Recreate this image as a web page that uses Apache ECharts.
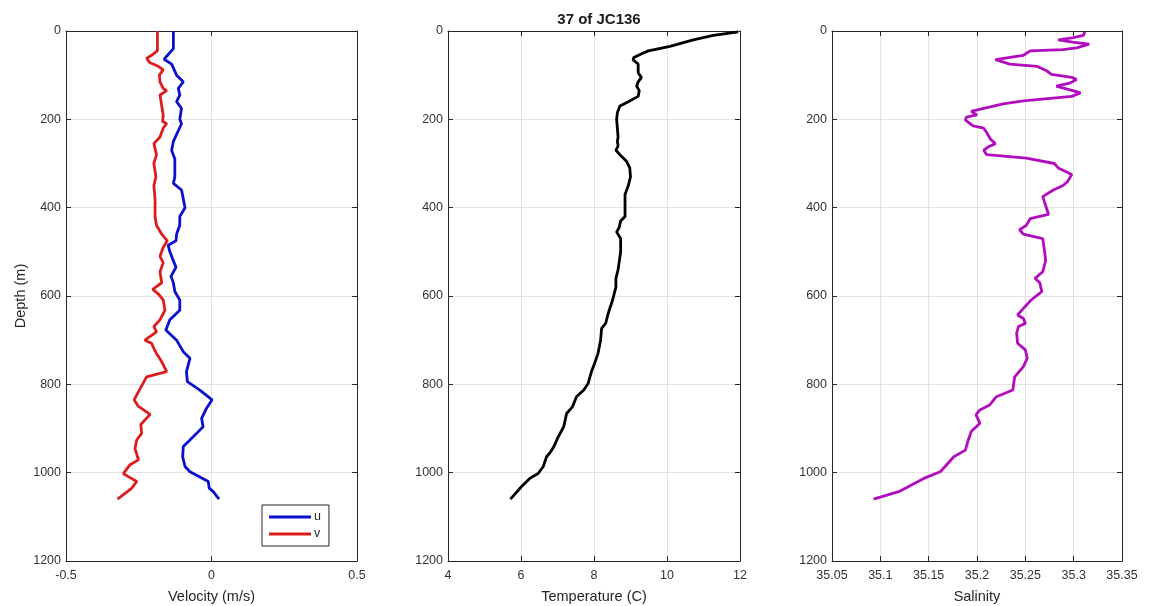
<!DOCTYPE html>
<html>
<head>
<meta charset="utf-8">
<script src="https://cdn.jsdelivr.net/npm/echarts@6/dist/echarts.min.js"></script>
<style>
  html, body { margin: 0; padding: 0; background: #fff; }
  #main { width: 1150px; height: 606px; }
</style>
</head>
<body>
<div id="main"></div>
<script>
// velocity profile (m/s) vs depth (m)
var uDepth = [0, 40, 64, 75, 100, 115, 130, 145, 160, 175, 200, 210, 250, 270, 290, 330, 345, 360, 380, 400,
  420, 440, 460, 475, 485, 500, 520, 535, 555, 570, 590, 609, 632, 643, 654, 677, 700, 726, 741, 756,
  771, 794, 813, 835, 854, 877, 896, 911, 930, 941, 964, 986, 998, 1020, 1035, 1043, 1060];
var uVel = [-0.131, -0.131, -0.163, -0.137, -0.12, -0.097, -0.114, -0.109, -0.12, -0.103, -0.109, -0.103, -0.131, -0.137, -0.126, -0.126, -0.131, -0.103, -0.097, -0.091,
  -0.109, -0.109, -0.12, -0.122, -0.149, -0.143, -0.131, -0.122, -0.139, -0.131, -0.126, -0.109, -0.109, -0.126, -0.143, -0.157, -0.12, -0.097, -0.074, -0.08,
  -0.086, -0.083, -0.04, 0.002, -0.017, -0.034, -0.029, -0.051, -0.08, -0.097, -0.099, -0.091, -0.074, -0.011, -0.008, 0.006, 0.026];

var vDepth = [0, 45, 55, 62, 72, 80, 88, 100, 115, 130, 135, 145, 170, 190, 205, 210, 220, 240, 255, 280,
  300, 330, 350, 380, 420, 440, 460, 475, 490, 510, 525, 545, 570, 585, 595, 609, 632, 654, 669, 681,
  700, 707, 719, 730, 749, 771, 783, 794, 813, 835, 850, 868, 891, 911, 926, 945, 971, 982, 1002, 1009,
  1020, 1035, 1047, 1060];
var vVel = [-0.186, -0.186, -0.206, -0.223, -0.211, -0.183, -0.166, -0.179, -0.177, -0.166, -0.154, -0.177, -0.171, -0.166, -0.168, -0.154, -0.166, -0.177, -0.198, -0.189,
  -0.198, -0.191, -0.198, -0.194, -0.194, -0.189, -0.171, -0.152, -0.166, -0.177, -0.166, -0.177, -0.171, -0.202, -0.183, -0.166, -0.16, -0.177, -0.198, -0.189,
  -0.229, -0.206, -0.198, -0.189, -0.171, -0.154, -0.223, -0.232, -0.248, -0.266, -0.251, -0.211, -0.243, -0.24, -0.257, -0.263, -0.251, -0.28, -0.303, -0.286,
  -0.257, -0.274, -0.297, -0.323];

// temperature (C)
var tDepth = [2, 10, 20, 35, 45, 50, 60, 65, 75, 95, 105, 115, 125, 135, 148, 160, 170, 185, 200, 220,
  240, 250, 260, 270, 280, 295, 310, 330, 350, 370, 420, 430, 445, 455, 470, 500, 540, 560, 580, 609,
  639, 662, 673, 700, 730, 752, 771, 798, 813, 828, 851, 866, 896, 919, 941, 953, 964, 986, 1002, 1013,
  1032, 1060];
var tVal = [11.95, 11.27, 10.72, 10.08, 9.49, 9.35, 9.09, 9.07, 9.21, 9.21, 9.3, 9.21, 9.17, 9.24, 9.21, 8.94, 8.71, 8.64, 8.62, 8.64,
  8.66, 8.64, 8.66, 8.6, 8.71, 8.89, 8.98, 9.0, 8.94, 8.85, 8.85, 8.73, 8.69, 8.62, 8.73, 8.73, 8.66, 8.6, 8.6, 8.51,
  8.39, 8.32, 8.21, 8.18, 8.11, 8.02, 7.93, 7.84, 7.72, 7.52, 7.41, 7.25, 7.17, 7.02, 6.9, 6.81, 6.7, 6.61, 6.47, 6.24,
  6.01, 5.71];

// salinity
var sDepth = [2, 10, 15, 20, 25, 30, 38, 42, 45, 55, 65, 75, 80, 90, 98, 105, 110, 118, 125, 135,
  140, 148, 158, 165, 175, 182, 190, 195, 202, 215, 220, 230, 245, 255, 262, 270, 280, 288, 300, 310,
  325, 340, 350, 360, 375, 395, 415, 425, 440, 450, 460, 470, 500, 520, 545, 560, 570, 590, 609, 628,
  643, 651, 662, 669, 684, 707, 722, 741, 760, 783, 813, 828, 847, 858, 869, 888, 907, 926, 949, 964,
  986, 998, 1013, 1043, 1060];
var sVal = [35.3115, 35.31, 35.3, 35.284, 35.299, 35.316, 35.303, 35.289, 35.255, 35.248, 35.219, 35.234, 35.262, 35.272, 35.277, 35.298, 35.303, 35.296, 35.282, 35.299,
  35.307, 35.298, 35.248, 35.227, 35.207, 35.194, 35.2, 35.189, 35.188, 35.196, 35.207, 35.21, 35.214, 35.219, 35.212, 35.207, 35.21, 35.251, 35.28, 35.284,
  35.298, 35.294, 35.289, 35.279, 35.268, 35.271, 35.274, 35.255, 35.251, 35.244, 35.248, 35.268, 35.27, 35.271, 35.268, 35.26, 35.265, 35.267, 35.256, 35.248,
  35.242, 35.248, 35.25, 35.243, 35.241, 35.242, 35.25, 35.252, 35.248, 35.239, 35.237, 35.22, 35.213, 35.203, 35.199, 35.203, 35.194, 35.191, 35.188, 35.176,
  35.167, 35.162, 35.145, 35.119, 35.093];

function pairs(xs, ds) {
  return xs.map(function (x, i) { return [x, ds[i]]; });
}

var chart = echarts.init(document.getElementById('main'));
var frame = '#262626';
var gridColor = '#e3e3e3';
var font = 'Liberation Sans, Arial, sans-serif';

var grids = [
  {left: 66, top: 31, width: 291, height: 530, outerBoundsMode: 'none', containLabel: false},
  {left: 448, top: 31, width: 292, height: 530, outerBoundsMode: 'none', containLabel: false},
  {left: 832, top: 31, width: 290, height: 530, outerBoundsMode: 'none', containLabel: false}
];
var xr = [
  {min: -0.5, max: 0.5, interval: 0.5, name: 'Velocity (m/s)'},
  {min: 4, max: 12, interval: 2, name: 'Temperature (C)'},
  {min: 35.05, max: 35.35, interval: 0.05, name: 'Salinity'}
];

var xAxes = [], yAxes = [];
xr.forEach(function (r, i) {
  xAxes.push({
    type: 'value', gridIndex: i, position: 'bottom',
    min: r.min, max: r.max, interval: r.interval,
    name: r.name, nameLocation: 'middle', nameGap: 28,
    nameTextStyle: {color: '#262626', fontSize: 14.5, fontFamily: font},
    axisLine: {onZero: false, lineStyle: {color: frame}},
    axisTick: {inside: true, length: 5, lineStyle: {color: frame}},
    axisLabel: {color: '#333', fontSize: 12.5, fontFamily: font, margin: 8,
      formatter: function (v) { return String(+v.toFixed(2)); }},
    splitLine: {show: true, lineStyle: {color: gridColor}}
  });
  xAxes.push({
    type: 'value', gridIndex: i, position: 'top',
    min: r.min, max: r.max, interval: r.interval,
    axisLine: {onZero: false, lineStyle: {color: frame}},
    axisTick: {inside: true, length: 5, lineStyle: {color: frame}},
    axisLabel: {show: false}, splitLine: {show: false}
  });
  yAxes.push({
    type: 'value', gridIndex: i, position: 'left', inverse: true,
    min: 0, max: 1200, interval: 200,
    name: i === 0 ? 'Depth (m)' : '', nameLocation: 'middle', nameGap: 38,
    nameTextStyle: {color: '#262626', fontSize: 14.5, fontFamily: font},
    axisLine: {onZero: false, lineStyle: {color: frame}},
    axisTick: {inside: true, length: 5, lineStyle: {color: frame}},
    axisLabel: {color: '#333', fontSize: 12.5, fontFamily: font, margin: 5,
      formatter: function (v) { return String(v); }},
    splitLine: {show: true, lineStyle: {color: gridColor}}
  });
  yAxes.push({
    type: 'value', gridIndex: i, position: 'right', inverse: true,
    min: 0, max: 1200, interval: 200,
    axisLine: {onZero: false, lineStyle: {color: frame}},
    axisTick: {inside: true, length: 5, lineStyle: {color: frame}},
    axisLabel: {show: false}, splitLine: {show: false}
  });
});

function line(name, data, color, gi) {
  return {
    name: name, type: 'line', xAxisIndex: gi * 2, yAxisIndex: gi * 2,
    data: data, symbol: 'none', smooth: false, animation: false,
    lineStyle: {color: color, width: 2.8}, itemStyle: {color: color}
  };
}

chart.setOption({
  backgroundColor: '#fff',
  animation: false,
  title: {
    text: '37 of JC136', left: 594, top: 7, textAlign: 'center',
    textStyle: {fontSize: 15, fontWeight: 'bold', color: '#1a1a1a', fontFamily: font}
  },
  legend: {
    data: ['u', 'v'], orient: 'vertical', left: 262, top: 505,
    icon: 'rect', itemWidth: 42, itemHeight: 3, itemGap: 3,
    padding: [5, 8, 5, 7], borderColor: frame, borderWidth: 1,
    backgroundColor: '#fff',
    textStyle: {fontSize: 12.5, lineHeight: 14, color: '#262626', fontFamily: font, padding: [0, 0, 0, -2]}
  },
  grid: grids,
  xAxis: xAxes,
  yAxis: yAxes,
  series: [
    line('u', pairs(uVel, uDepth), '#0a10cc', 0),
    line('v', pairs(vVel, vDepth), '#dd1c1c', 0),
    line('Temperature', pairs(tVal, tDepth), '#000000', 1),
    line('Salinity', pairs(sVal, sDepth), '#b20cbf', 2)
  ]
});
</script>
</body>
</html>
